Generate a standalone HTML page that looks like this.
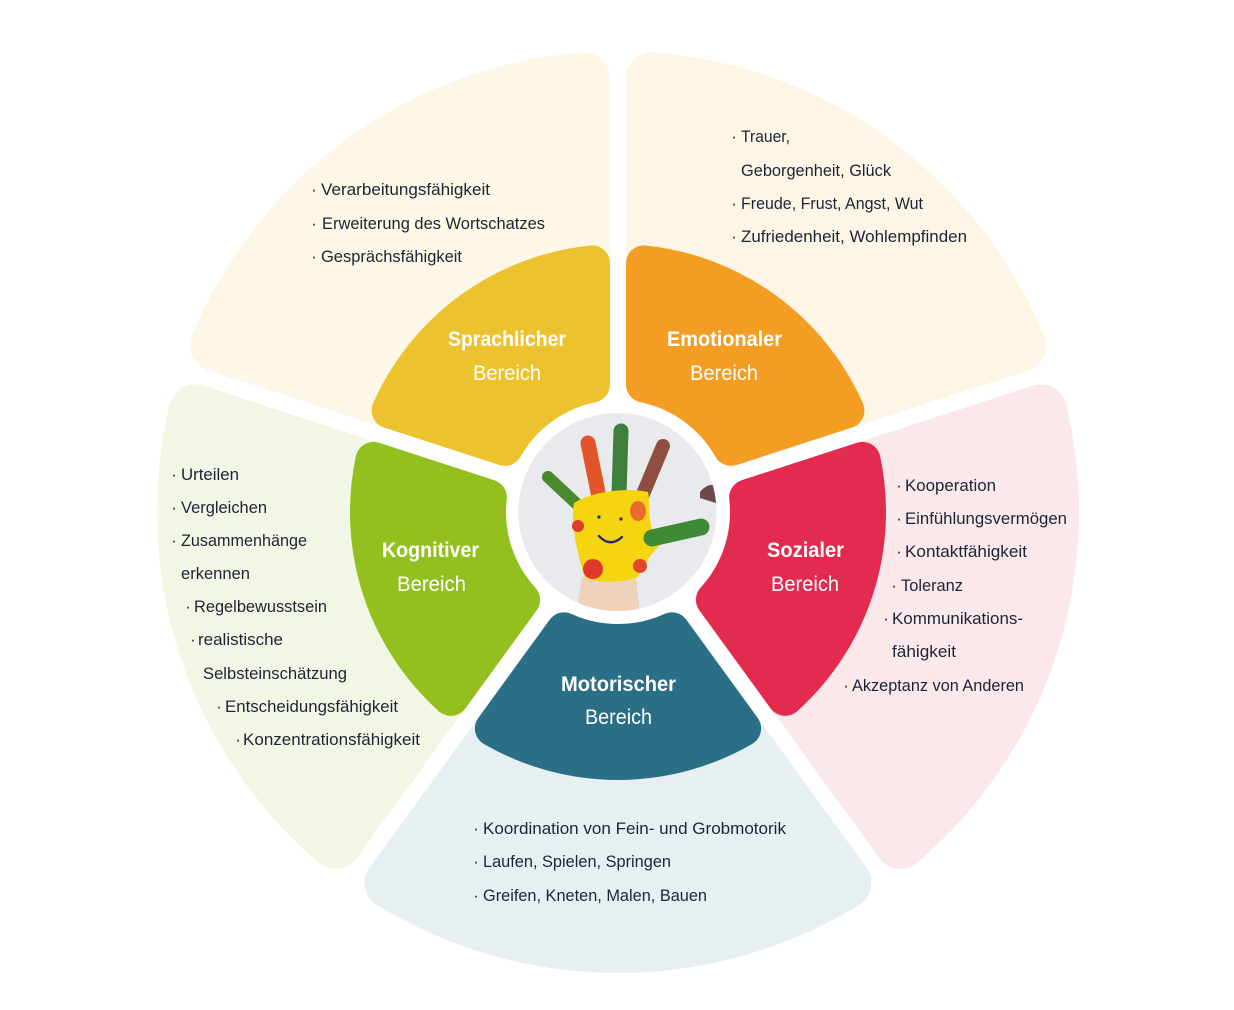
<!DOCTYPE html>
<html>
<head>
<meta charset="utf-8">
<style>
html,body{margin:0;padding:0;background:#fff;}
svg{display:block;}
.t{font-family:"Liberation Sans",Arial,sans-serif;font-size:16.5px;fill:#1c2535;}
.d{font-family:"Liberation Sans",Arial,sans-serif;font-size:16.5px;fill:#1c2535;text-anchor:middle;}
.h{font-family:"Liberation Sans",Arial,sans-serif;font-size:21px;font-weight:bold;fill:#fff;}
.b{font-family:"Liberation Sans",Arial,sans-serif;font-size:21px;fill:#fff;}
</style>
</head>
<body>
<svg width="1234" height="1010" viewBox="0 0 1234 1010" xmlns="http://www.w3.org/2000/svg">
<defs>
  <path id="cream" d="M -227.39 -370.83 A 435 435 0 0 1 227.39 -370.83 L 88.32 -179.44 A 200 200 0 0 0 -88.32 -179.44 Z" stroke-width="52" stroke-linejoin="round"/>
  <path id="seg" d="M -125.11 -216.44 A 250 250 0 0 1 125.11 -216.44 L 53.82 -118.33 A 130 130 0 0 0 -53.82 -118.33 Z" stroke-width="36" stroke-linejoin="round"/>
  <clipPath id="pc"><circle cx="617.5" cy="512" r="99"/></clipPath>
</defs>

<!-- outer light sectors -->
<g transform="translate(618,512)">
  <use href="#cream" transform="rotate(-36)" fill="#fcf7e7" stroke="#fcf7e7"/>
  <use href="#cream" transform="rotate(36)" fill="#fdf5e6" stroke="#fdf5e6"/>
  <use href="#cream" transform="rotate(108)" fill="#fbe8ea" stroke="#fbe8ea"/>
  <use href="#cream" transform="rotate(180)" fill="#e8eff2" stroke="#e8eff2"/>
  <use href="#cream" transform="rotate(252)" fill="#f2f7e5" stroke="#f2f7e5"/>
</g>

<!-- colored inner sectors -->
<g transform="translate(618,512)">
  <use href="#seg" transform="rotate(-36)" fill="#ecc22f" stroke="#ecc22f"/>
  <use href="#seg" transform="rotate(36)" fill="#f39d22" stroke="#f39d22"/>
  <use href="#seg" transform="rotate(108)" fill="#e32b4f" stroke="#e32b4f"/>
  <use href="#seg" transform="rotate(180)" fill="#2a6f86" stroke="#2a6f86"/>
  <use href="#seg" transform="rotate(252)" fill="#93c01f" stroke="#93c01f"/>
</g>

<!-- center photo -->
<circle cx="617.5" cy="512" r="99" fill="#e8eaed"/>
<g clip-path="url(#pc)">
  <path d="M582 578 L636 576 L640 615 L576 615 Z" fill="#efd0b8"/>
  <path d="M700 492 Q708 482 716 486 L716 503 Q706 500 700 498 Z" fill="#6a4a4c"/>
  <!-- fingers -->
  <line x1="548" y1="477" x2="580" y2="507" stroke="#4a8a2e" stroke-width="12" stroke-linecap="round"/>
  <line x1="588" y1="443" x2="599" y2="497" stroke="#e2552b" stroke-width="15" stroke-linecap="round"/>
  <line x1="621" y1="431" x2="619" y2="494" stroke="#3f7f3c" stroke-width="15" stroke-linecap="round"/>
  <line x1="663" y1="446" x2="643" y2="494" stroke="#8e4f40" stroke-width="14" stroke-linecap="round"/>
  <!-- palm -->
  <path d="M574 503 C 570 525 578 555 585 578 C 600 584 625 582 638 577 C 646 562 652 552 660 545 L 652 530 C 648 515 650 500 648 492 C 630 488 595 490 574 503 Z" fill="#f4d50f"/>
  <line x1="652" y1="538" x2="701" y2="527" stroke="#3e8a35" stroke-width="17" stroke-linecap="round"/>
  <circle cx="593" cy="569" r="10" fill="#de3a2a"/>
  <circle cx="640" cy="566" r="7" fill="#e0472b"/>
  <circle cx="578" cy="526" r="6" fill="#dd3b2c"/>
  <ellipse cx="638" cy="511" rx="8" ry="10" fill="#ea6c2c"/>
  <circle cx="599" cy="517" r="1.6" fill="#2a2b6a"/>
  <circle cx="621" cy="519" r="1.6" fill="#2a2b6a"/>
  <path d="M599 536 Q610 548 622 537" fill="none" stroke="#2a2b6e" stroke-width="2.4" stroke-linecap="round"/>
</g>

<!-- segment titles -->
<text class="h" x="448" y="346" textLength="118" lengthAdjust="spacingAndGlyphs">Sprachlicher</text>
<text class="b" x="473" y="380" textLength="68" lengthAdjust="spacingAndGlyphs">Bereich</text>
<text class="h" x="667" y="346" textLength="115" lengthAdjust="spacingAndGlyphs">Emotionaler</text>
<text class="b" x="690" y="380" textLength="68" lengthAdjust="spacingAndGlyphs">Bereich</text>
<text class="h" x="382" y="557" textLength="97" lengthAdjust="spacingAndGlyphs">Kognitiver</text>
<text class="b" x="397" y="591" textLength="69" lengthAdjust="spacingAndGlyphs">Bereich</text>
<text class="h" x="767" y="557" textLength="77" lengthAdjust="spacingAndGlyphs">Sozialer</text>
<text class="b" x="771" y="591" textLength="68" lengthAdjust="spacingAndGlyphs">Bereich</text>
<text class="h" x="561" y="691" textLength="115" lengthAdjust="spacingAndGlyphs">Motorischer</text>
<text class="b" x="585" y="724" textLength="67" lengthAdjust="spacingAndGlyphs">Bereich</text>

<!-- Sprachlicher list -->
<text class="d" x="314" y="195">·</text><text class="t" x="321" y="195" textLength="169" lengthAdjust="spacingAndGlyphs">Verarbeitungsfähigkeit</text>
<text class="d" x="314" y="229">·</text><text class="t" x="322" y="229" textLength="223" lengthAdjust="spacingAndGlyphs">Erweiterung des Wortschatzes</text>
<text class="d" x="314" y="262">·</text><text class="t" x="321" y="262" textLength="141" lengthAdjust="spacingAndGlyphs">Gesprächsfähigkeit</text>

<!-- Emotionaler list -->
<text class="d" x="734" y="142">·</text><text class="t" x="741" y="142" textLength="49" lengthAdjust="spacingAndGlyphs">Trauer,</text>
<text class="t" x="741" y="176" textLength="150" lengthAdjust="spacingAndGlyphs">Geborgenheit, Glück</text>
<text class="d" x="734" y="209">·</text><text class="t" x="741" y="209" textLength="182" lengthAdjust="spacingAndGlyphs">Freude, Frust, Angst, Wut</text>
<text class="d" x="734" y="242">·</text><text class="t" x="741" y="242" textLength="226" lengthAdjust="spacingAndGlyphs">Zufriedenheit, Wohlempfinden</text>

<!-- Kognitiver list -->
<text class="d" x="174" y="480">·</text><text class="t" x="181" y="480" textLength="58" lengthAdjust="spacingAndGlyphs">Urteilen</text>
<text class="d" x="174" y="513">·</text><text class="t" x="181" y="513" textLength="86" lengthAdjust="spacingAndGlyphs">Vergleichen</text>
<text class="d" x="174" y="546">·</text><text class="t" x="181" y="546" textLength="126" lengthAdjust="spacingAndGlyphs">Zusammenhänge</text>
<text class="t" x="181" y="579" textLength="69" lengthAdjust="spacingAndGlyphs">erkennen</text>
<text class="d" x="188" y="612">·</text><text class="t" x="194" y="612" textLength="133" lengthAdjust="spacingAndGlyphs">Regelbewusstsein</text>
<text class="d" x="193" y="645">·</text><text class="t" x="198" y="645" textLength="85" lengthAdjust="spacingAndGlyphs">realistische</text>
<text class="t" x="203" y="679" textLength="144" lengthAdjust="spacingAndGlyphs">Selbsteinschätzung</text>
<text class="d" x="219" y="712">·</text><text class="t" x="225" y="712" textLength="173" lengthAdjust="spacingAndGlyphs">Entscheidungsfähigkeit</text>
<text class="d" x="238" y="745">·</text><text class="t" x="243" y="745" textLength="177" lengthAdjust="spacingAndGlyphs">Konzentrationsfähigkeit</text>

<!-- Sozialer list -->
<text class="d" x="899" y="491">·</text><text class="t" x="905" y="491" textLength="91" lengthAdjust="spacingAndGlyphs">Kooperation</text>
<text class="d" x="899" y="524">·</text><text class="t" x="905" y="524" textLength="162" lengthAdjust="spacingAndGlyphs">Einfühlungsvermögen</text>
<text class="d" x="899" y="557">·</text><text class="t" x="905" y="557" textLength="122" lengthAdjust="spacingAndGlyphs">Kontaktfähigkeit</text>
<text class="d" x="894" y="591">·</text><text class="t" x="901" y="591" textLength="62" lengthAdjust="spacingAndGlyphs">Toleranz</text>
<text class="d" x="886" y="624">·</text><text class="t" x="892" y="624" textLength="131" lengthAdjust="spacingAndGlyphs">Kommunikations-</text>
<text class="t" x="892" y="657" textLength="64" lengthAdjust="spacingAndGlyphs">fähigkeit</text>
<text class="d" x="846" y="691">·</text><text class="t" x="852" y="691" textLength="172" lengthAdjust="spacingAndGlyphs">Akzeptanz von Anderen</text>

<!-- Motorischer list -->
<text class="d" x="476" y="834">·</text><text class="t" x="483" y="834" textLength="303" lengthAdjust="spacingAndGlyphs">Koordination von Fein- und Grobmotorik</text>
<text class="d" x="476" y="867">·</text><text class="t" x="483" y="867" textLength="188" lengthAdjust="spacingAndGlyphs">Laufen, Spielen, Springen</text>
<text class="d" x="476" y="901">·</text><text class="t" x="483" y="901" textLength="224" lengthAdjust="spacingAndGlyphs">Greifen, Kneten, Malen, Bauen</text>
</svg>
</body>
</html>
